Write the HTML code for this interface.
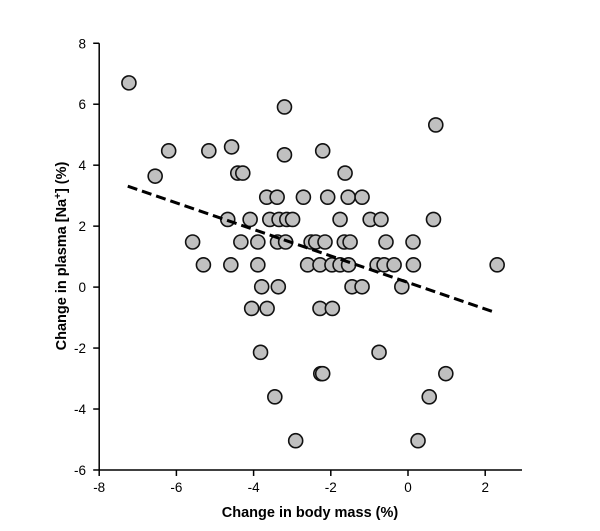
<!DOCTYPE html>
<html><head><meta charset="utf-8"><style>
html,body{margin:0;padding:0;background:#fff;}
svg{display:block;font-family:"Liberation Sans",Arial,sans-serif;}
</style></head><body>
<svg id="chart" width="600" height="531" viewBox="0 0 600 531">
<g id="axes"></g>
<g id="pts"></g>
<g id="trend"></g>
<text x="310" y="517" text-anchor="middle" font-size="14.5" font-weight="bold">Change in body mass (%)</text>
<text transform="translate(66,256) rotate(-90)" text-anchor="middle" font-size="14.5" font-weight="bold">Change in plasma [Na<tspan font-size="10" dy="-5">+</tspan><tspan dy="5">] (%)</tspan></text>
</svg>
<script>
const xValues = [-7.23,-6.55,-6.20,-5.16,-4.57,-3.20,-3.20,-2.21,-1.63,-4.41,-4.28,0.72,
-3.66,-3.39,-2.71,-2.08,-1.55,-1.19,
-4.67,-4.09,-3.58,-3.34,-3.14,-2.99,-1.76,-0.98,-0.70,0.66,
-5.58,-4.33,-3.89,-3.38,-3.17,-2.51,-2.39,-2.15,-1.65,-1.50,-0.57,0.13,
-5.30,-4.59,-3.89,-2.60,-2.28,-1.97,-1.76,-1.54,-0.80,-0.62,-0.36,0.14,2.31,
-3.79,-3.36,-1.45,-1.19,-0.16,
-4.05,-3.65,-2.28,-1.96,
-3.82,-0.75,
-2.26,-2.21,0.98,
-3.45,0.55,
-2.91,0.26];
const yValues = [6.70,3.64,4.47,4.47,4.60,4.34,5.91,4.47,3.74,3.74,3.74,5.32,
2.95,2.95,2.95,2.95,2.95,2.95,
2.22,2.22,2.22,2.22,2.22,2.22,2.22,2.22,2.22,2.22,
1.48,1.48,1.48,1.48,1.48,1.48,1.48,1.48,1.48,1.48,1.48,1.48,
0.73,0.73,0.73,0.73,0.73,0.73,0.73,0.73,0.73,0.73,0.73,0.73,0.73,
0.01,0.01,0.01,0.01,0.01,
-0.70,-0.70,-0.70,-0.70,
-2.14,-2.14,
-2.84,-2.84,-2.84,
-3.60,-3.60,
-5.04,-5.04];
const xTicks = [-8,-6,-4,-2,0,2];
const yTicks = [-6,-4,-2,0,2,4,6,8];
const trendX = [-7.26, 2.25];
const trendSlope = -0.435;
const trendIntercept = 0.152;

const NS="http://www.w3.org/2000/svg";
const sx = v => 408 + v*38.6;
const sy = v => 287.1 - v*30.48;
function mk(tag, attrs, parent){const e=document.createElementNS(NS,tag);for(const k in attrs)e.setAttribute(k,attrs[k]);parent.appendChild(e);return e;}
const axes=document.getElementById('axes');
let a=mk('line',{x1:sx(-8),y1:sy(8),x2:sx(-8),y2:sy(-6),stroke:'#000','stroke-width':1.5},axes);


a=mk('line',{x1:sx(-8),y1:sy(-6),x2:522,y2:sy(-6),stroke:'#000','stroke-width':1.5},axes);


xTicks.forEach(t=>{
  const l=mk('line',{x1:sx(t),x2:sx(t),y1:sy(-6),y2:sy(-6)+6,stroke:'#000','stroke-width':1.5},axes);
  
  
  const tx=mk('text',{x:sx(t),y:sy(-6)+22,'text-anchor':'middle','font-size':13.5},axes);
  tx.textContent=String(t);
  
  
});
yTicks.forEach(t=>{
  const l=mk('line',{x1:sx(-8)-6,x2:sx(-8),y1:sy(t),y2:sy(t),stroke:'#000','stroke-width':1.5},axes);
  
  
  const tx=mk('text',{x:86,y:sy(t)+5,'text-anchor':'end','font-size':13.5},axes);
  tx.textContent=String(t);
  
  
});
const pts=document.getElementById('pts');
xValues.forEach((x,i)=>{
  const c=mk('circle',{cx:sx(x),cy:sy(yValues[i]),r:7,fill:'#c0c0c0',stroke:'#111','stroke-width':1.6},pts);
  
  
});
const tr=document.getElementById('trend');
const ln=mk('line',{x1:sx(trendX[0]),y1:sy(trendIntercept+trendSlope*trendX[0]),x2:sx(trendX[1]),y2:sy(trendIntercept+trendSlope*trendX[1]),stroke:'#000','stroke-width':3,'stroke-dasharray':'10,5'},tr);


</script>
</body></html>
